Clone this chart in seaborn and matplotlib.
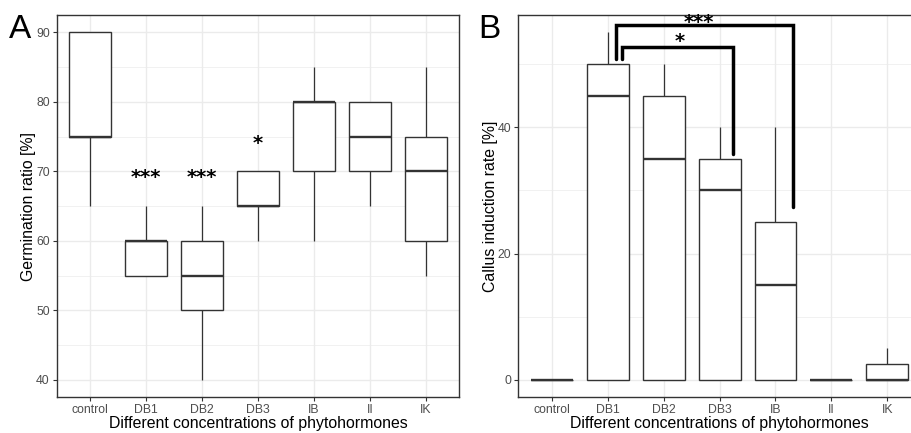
"""
Germination ratio and callus induction rate per phytohormone treatment.
Two box-plot panels (A, B) in a ggplot theme_bw look.
"""

import numpy as np
import pandas as pd
import matplotlib
matplotlib.use("Agg")
import matplotlib.pyplot as plt
from matplotlib.ticker import MultipleLocator
import seaborn as sns

groups = ["control", "DB1", "DB2", "DB3", "IB", "II", "IK"]

germination = [
    [65, 75, 75, 90, 90],
    [55, 55, 60, 60, 65],
    [40, 50, 55, 60, 65],
    [60, 65, 65, 70, 70],
    [60, 70, 80, 80, 85],
    [65, 70, 75, 80, 80],
    [55, 60, 70, 75, 85],
]

callus = [
    [0, 0, 0, 0, 0],
    [0, 0, 45, 50, 55],
    [0, 0, 35, 45, 50],
    [0, 0, 30, 35, 40],
    [0, 0, 15, 25, 40],
    [0, 0, 0, 0, 0],
    [0, 0, 0, 2.5, 5],
]

# significance labels for panel A (per group, y = centre of the stars)
stars_a = ["", "***", "***", "*", "", "", ""]
stars_a_y = [0, 69.3, 69.3, 74.2, 0, 0, 0]

# significance brackets for panel B:
# (x_left, x_right, y_top, y_left_end, y_right_end, label, label_x, label_y)
brackets_b = [
    (1.14, 4.32, 56.1, 50.8, 27.4, "***", 2.62, 56.85),
    (1.25, 3.24, 52.7, 50.8, 35.8, "*", 2.28, 53.85),
]

# aesthetics
sns.set_theme(style="white")
plt.rcParams["font.family"] = ["Liberation Sans", "DejaVu Sans"]
GREY20 = "#333333"
GREY30 = "#4D4D4D"
GRID = "#EBEBEB"
STAR_FS = 14


def _long(values, name):
    rows = [(g, v) for g, vals in zip(groups, values) for v in vals]
    return pd.DataFrame(rows, columns=["group", name])


def _stars(ax, x, y, lab):
    # DejaVu asterisk glyph sits well above the baseline; centre it on y
    ax.annotate(lab, (x, y), xytext=(0, -0.36 * STAR_FS),
                textcoords="offset points", ha="center", va="baseline",
                fontsize=STAR_FS, fontweight="bold", color="black",
                family="DejaVu Sans", annotation_clip=False)


def _panel(ax, df, col, ylabel, major, minor):
    ax.set_axisbelow(True)
    sns.boxplot(data=df, x="group", y=col, order=groups, ax=ax,
                width=0.75, color="white", linecolor=GREY20, linewidth=1.0,
                showcaps=False, fliersize=0, whis=1.5,
                medianprops={"linewidth": 1.7, "color": GREY20},
                whiskerprops={"linewidth": 0.9, "color": GREY20})
    ax.set_xlim(-0.6, len(groups) - 0.4)
    lo, hi = df[col].min(), df[col].max()
    pad = (hi - lo) * 0.05
    ax.set_ylim(lo - pad, hi + pad)

    ax.yaxis.set_major_locator(MultipleLocator(major))
    ax.yaxis.set_minor_locator(MultipleLocator(minor))
    ax.grid(which="major", color=GRID, lw=1.0)
    ax.grid(which="minor", axis="y", color=GRID, lw=0.5)
    for s in ax.spines.values():
        s.set_color(GREY20)
        s.set_linewidth(1.0)
    ax.tick_params(axis="both", which="major", length=3, width=0.8,
                   color=GREY20, labelcolor=GREY30, labelsize=8.8, pad=2,
                   bottom=True, left=True)
    ax.tick_params(axis="y", which="minor", length=0)
    ax.set_xlabel("Different concentrations of phytohormones",
                  fontsize=11.4, color="black", labelpad=0)
    ax.set_ylabel(ylabel, fontsize=11.4, color="black", labelpad=0)


fig = plt.figure(figsize=(9.11, 4.33), dpi=100)
ax1 = fig.add_axes([0.0622, 0.0824, 0.4419, 0.883])
ax2 = fig.add_axes([0.569, 0.0824, 0.4418, 0.883])

# A: germination ratio
_panel(ax1, _long(germination, "germ"), "germ", "Germination ratio [%]", 10, 5)
for i, (lab, y) in enumerate(zip(stars_a, stars_a_y)):
    if lab:
        _stars(ax1, i, y, lab)

# B: callus induction rate
_panel(ax2, _long(callus, "callus"), "callus", "Callus induction rate [%]", 20, 10)
for x1, x2, ytop, yl, yr, lab, lx, ly in brackets_b:
    ax2.plot([x1, x1, x2, x2], [yl, ytop, ytop, yr], color="black",
             lw=2.5, solid_joinstyle="miter", clip_on=False)
    _stars(ax2, lx, ly, lab)

fig.text(0.010, 0.912, "A", fontsize=24, color="black")
fig.text(0.525, 0.912, "B", fontsize=24, color="black")

fig.savefig("out.png", dpi=100)
